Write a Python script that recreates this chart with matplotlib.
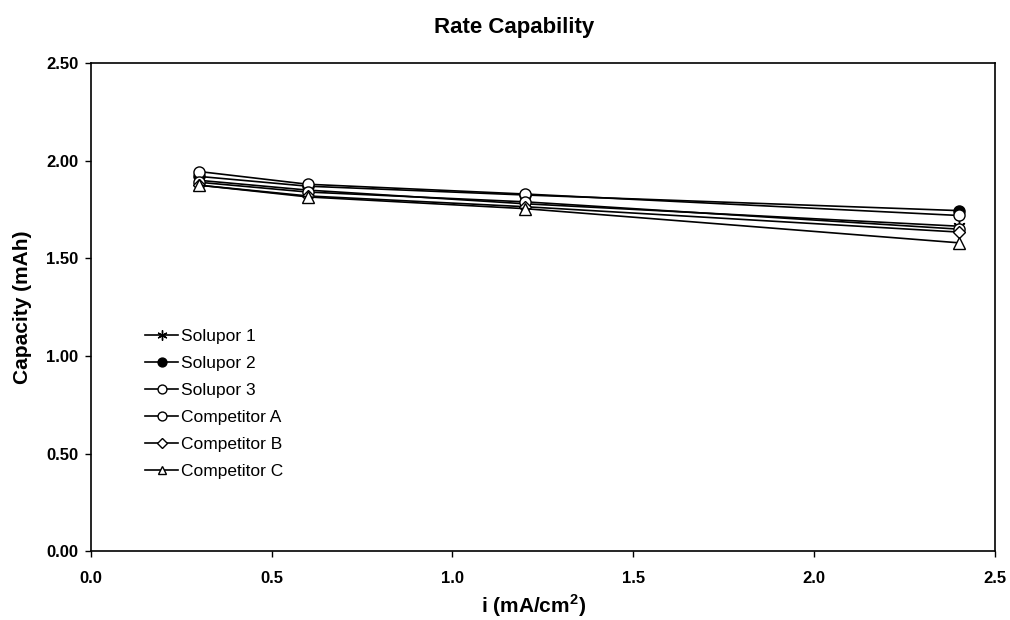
import matplotlib
matplotlib.use('Agg')
import matplotlib.pyplot as plt

plt.rcParams['font.family'] = ['Liberation Sans', 'DejaVu Sans']
plt.rcParams['mathtext.fontset'] = 'custom'
plt.rcParams['mathtext.bf'] = 'Liberation Sans:bold'

# current density (mA/cm^2)
current = [0.3, 0.6, 1.2, 2.4]

# capacity (mAh) per separator
solupor1 = [1.90, 1.85, 1.78, 1.665]
solupor2 = [1.92, 1.87, 1.825, 1.745]
solupor3 = [1.945, 1.88, 1.83, 1.72]
competitor_a = [1.89, 1.84, 1.79, 1.65]
competitor_b = [1.875, 1.82, 1.765, 1.635]
competitor_c = [1.875, 1.815, 1.755, 1.58]

series = [
    ('Solupor 1', solupor1, dict(marker=(6, 2, 0), mfc='black', ms=9, mew=1.0)),
    ('Solupor 2', solupor2, dict(marker='o', mfc='black', ms=8)),
    ('Solupor 3', solupor3, dict(marker='o', mfc='white', ms=8)),
    ('Competitor A', competitor_a, dict(marker='o', mfc='white', ms=8)),
    ('Competitor B', competitor_b, dict(marker='D', mfc='white', ms=6)),
    ('Competitor C', competitor_c, dict(marker='^', mfc='white', ms=8)),
]

fig = plt.figure(figsize=(10.1, 6.2), dpi=100)
ax = fig.add_axes([0.090, 0.111, 0.895, 0.787])

for name, vals, style in series:
    ax.plot(current, vals, color='black', lw=1.2, mec='black', label=name, **style)

ax.set_xlim(0, 2.5)
ax.set_ylim(0, 2.5)
ax.set_xticks([0.0, 0.5, 1.0, 1.5, 2.0, 2.5])
ax.set_yticks([0.0, 0.5, 1.0, 1.5, 2.0, 2.5])
ax.set_xticklabels([f'{v:.1f}' for v in ax.get_xticks()])
ax.set_yticklabels([f'{v:.2f}' for v in ax.get_yticks()])
ax.tick_params(direction='out', length=4, width=1, labelsize=12)
ax.tick_params(axis='x', pad=10)
ax.tick_params(axis='y', pad=5)
for lab in ax.get_xticklabels() + ax.get_yticklabels():
    lab.set_fontweight('bold')
for sp in ax.spines.values():
    sp.set_linewidth(1.2)

fig.suptitle('Rate Capability', x=0.509, y=0.956, va='center', fontsize=16, fontweight='bold')
ax.set_xlabel('i (mA/cm$^\\mathbf{2}$)', fontsize=15, fontweight='bold')
ax.xaxis.set_label_coords(0.49, -0.085)
ax.set_ylabel('Capacity (mAh)', fontsize=15, fontweight='bold', labelpad=10)

ax.legend(loc='upper left', bbox_to_anchor=(0.043, 0.487), frameon=False,
          fontsize=12.5, handlelength=1.9, handletextpad=0.15, labelspacing=0.68,
          markerscale=0.8)

plt.savefig('out.png', dpi=100)
